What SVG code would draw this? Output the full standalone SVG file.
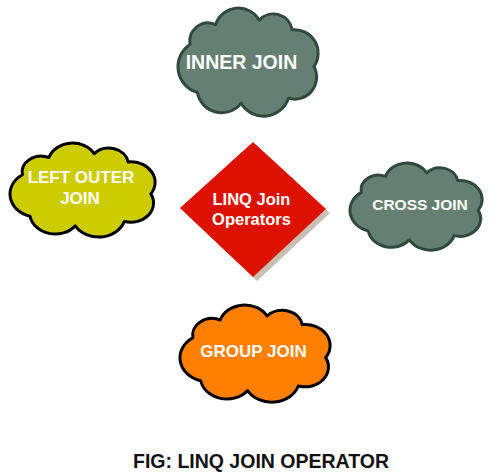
<svg xmlns="http://www.w3.org/2000/svg" width="498" height="475" viewBox="0 0 498 475">
<style>
.cloud{vector-effect:non-scaling-stroke;stroke-width:3;stroke-linejoin:round}
.gray{fill:#658073;stroke:#2f4a3c}
.yellow{fill:#cccc00;stroke:#000}
.orange{fill:#ff8000;stroke:#000}
.lbl{font-family:"Liberation Sans",Arial,sans-serif;font-weight:bold;fill:#fff;text-anchor:middle}
.cap{font-family:"Liberation Sans",Arial,sans-serif;font-weight:bold;fill:#111;text-anchor:middle;font-size:19.5px}
</style>
<defs>
<path id="cloudShape" d="M20,45 A25,25 0 0 1 55,18 A33,33 0 0 1 115,12 A26,26 0 0 1 160,25 A32,32 0 0 1 190,75 A30,30 0 0 1 155,118 A36,36 0 0 1 90,125 A34,34 0 0 1 30,110 A36,36 0 0 1 20,45 Z"/>
</defs>
<rect width="498" height="475" fill="#fff"/>
<g id="connectors"></g>
<g id="inner-join">
<g transform="translate(178,8) scale(0.729,0.735) translate(-3.5,4.7)">
<path class="cloud gray" d="M20,45 A25,25 0 0 1 55,18 A33,33 0 0 1 115,12 A26,26 0 0 1 160,25 A32,32 0 0 1 190,75 A30,30 0 0 1 155,118 A36,36 0 0 1 90,125 A34,34 0 0 1 30,110 A36,36 0 0 1 20,45 Z"/>
</g>
<text class="lbl" x="241.5" y="69" font-size="19.5">INNER JOIN</text>
</g>
<g id="left-outer-join">
<g transform="translate(10,143) scale(0.755,0.639) translate(-3.5,4.7)">
<path class="cloud yellow" d="M20,45 A25,25 0 0 1 55,18 A33,33 0 0 1 115,12 A26,26 0 0 1 160,25 A32,32 0 0 1 190,75 A30,30 0 0 1 155,118 A36,36 0 0 1 90,125 A34,34 0 0 1 30,110 A36,36 0 0 1 20,45 Z"/>
</g>
<text class="lbl" x="81" y="183" font-size="17">LEFT OUTER</text>
<text class="lbl" x="80" y="203.5" font-size="17">JOIN</text>
</g>
<g id="linq-join-operators">
<polygon points="257,146 330,213 257,281 184,212" fill="#c8beb3"/>
<polygon points="253,142 326,209 253,277 180,208" fill="#dd1100"/>
<text class="lbl" x="251.5" y="205" font-size="16.5">LINQ Join</text>
<text class="lbl" x="251.5" y="225" font-size="16.5">Operators</text>
</g>
<g id="cross-join">
<g transform="translate(350,163) scale(0.6875,0.592) translate(-3.5,4.7)">
<path class="cloud gray" d="M20,45 A25,25 0 0 1 55,18 A33,33 0 0 1 115,12 A26,26 0 0 1 160,25 A32,32 0 0 1 190,75 A30,30 0 0 1 155,118 A36,36 0 0 1 90,125 A34,34 0 0 1 30,110 A36,36 0 0 1 20,45 Z"/>
</g>
<text class="lbl" x="420" y="210" font-size="15.5">CROSS JOIN</text>
</g>
<g id="group-join">
<g transform="translate(180,305) scale(0.781,0.66) translate(-3.5,4.7)">
<path class="cloud orange" d="M20,45 A25,25 0 0 1 55,18 A33,33 0 0 1 115,12 A26,26 0 0 1 160,25 A32,32 0 0 1 190,75 A30,30 0 0 1 155,118 A36,36 0 0 1 90,125 A34,34 0 0 1 30,110 A36,36 0 0 1 20,45 Z"/>
</g>
<text class="lbl" x="253.5" y="357" font-size="17">GROUP JOIN</text>
</g>
<text id="caption" class="cap" x="261" y="468">FIG: LINQ JOIN OPERATOR</text>
</svg>
